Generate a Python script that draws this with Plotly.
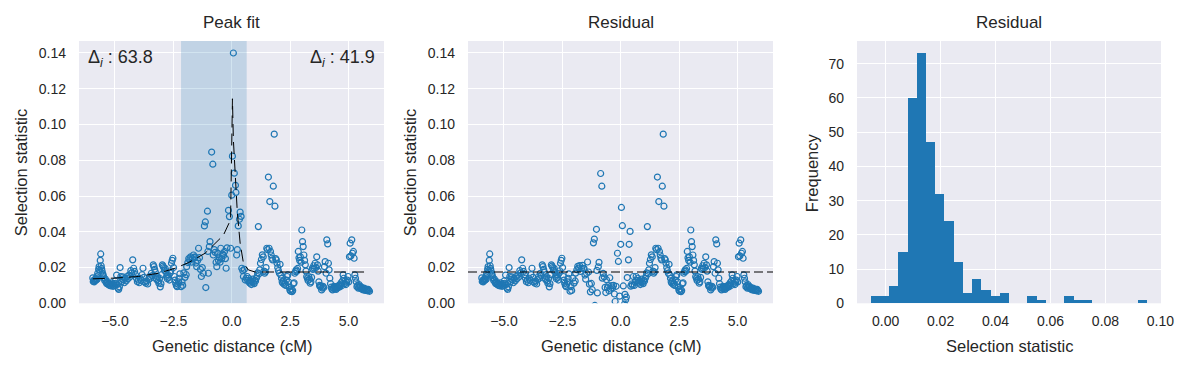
import numpy as np
import plotly.graph_objects as go

# ---------------- data ----------------
# points left of the fitted window (raw == residual)
left_pts = [
    (-5.95, .0142), (-5.93, .0122), (-5.91, .0128), (-5.89, .0120), (-5.87, .0133), (-5.85, .0126),
    (-5.82, .0138), (-5.80, .0130), (-5.78, .0148), (-5.76, .0135), (-5.74, .0168), (-5.72, .0155),
    (-5.70, .0190), (-5.68, .0205), (-5.65, .0185), (-5.63, .0240), (-5.61, .0276), (-5.59, .0210),
    (-5.57, .0195), (-5.55, .0180), (-5.52, .0165), (-5.50, .0155), (-5.47, .0142), (-5.44, .0128),
    (-5.41, .0135), (-5.38, .0118), (-5.35, .0110), (-5.32, .0122), (-5.29, .0105), (-5.26, .0112),
    (-5.23, .0100), (-5.20, .0108), (-5.17, .0097), (-5.14, .0115), (-5.11, .0102), (-5.08, .0095),
    (-5.05, .0110), (-5.02, .0100), (-4.99, .0125), (-4.96, .0112), (-4.93, .0158), (-4.90, .0105),
    (-4.87, .0085), (-4.84, .0078), (-4.81, .0092), (-4.78, .0200), (-4.75, .0150), (-4.72, .0120),
    (-4.69, .0135), (-4.66, .0148), (-4.63, .0130), (-4.60, .0115), (-4.56, .0140), (-4.52, .0125),
    (-4.48, .0150), (-4.44, .0138), (-4.40, .0158), (-4.36, .0147), (-4.32, .0183), (-4.28, .0170),
    (-4.24, .0243), (-4.20, .0196), (-4.16, .0178), (-4.12, .0160), (-4.08, .0140), (-4.04, .0121),
    (-4.00, .0130), (-3.96, .0115), (-3.92, .0140), (-3.88, .0128), (-3.84, .0160), (-3.80, .0196),
    (-3.76, .0145), (-3.72, .0120), (-3.68, .0112), (-3.64, .0125), (-3.60, .0108), (-3.56, .0132),
    (-3.52, .0150), (-3.48, .0140), (-3.44, .0168), (-3.40, .0155), (-3.36, .0215), (-3.33, .0205),
    (-3.30, .0190), (-3.27, .0175), (-3.24, .0140), (-3.21, .0132), (-3.18, .0150), (-3.15, .0125),
    (-3.12, .0112), (-3.09, .0140), (-3.06, .0092), (-3.03, .0110), (-3.00, .0160), (-2.97, .0215),
    (-2.94, .0208), (-2.91, .0200), (-2.88, .0185), (-2.85, .0196), (-2.82, .0175), (-2.79, .0150),
    (-2.76, .0138), (-2.73, .0160), (-2.70, .0145), (-2.67, .0130), (-2.64, .0168), (-2.61, .0182),
    (-2.58, .0224), (-2.55, .0240), (-2.52, .0252), (-2.49, .0200), (-2.46, .0150), (-2.43, .0130),
    (-2.40, .0112), (-2.37, .0100), (-2.34, .0093), (-2.31, .0108), (-2.28, .0120), (-2.25, .0140),
    (-2.22, .0165),
]

# points inside the fitted window: (x, raw value, residual value)
win_pts = [
    (-2.17, .0093, .0068), (-2.13, .0120, .0093), (-2.10, .0100, .0072), (-2.05, .0170, .0140),
    (-2.00, .0145, .0113), (-1.95, .0160, .0125), (-1.93, .0205, .0169), (-1.88, .0228, .0188),
    (-1.84, .0250, .0207), (-1.80, .0243, .0197), (-1.76, .0260, .0211), (-1.72, .0230, .0178),
    (-1.68, .0250, .0195), (-1.64, .0270, .0212), (-1.60, .0255, .0194), (-1.57, .0260, .0196),
    (-1.53, .0225, .0158), (-1.50, .0205, .0135), (-1.46, .0240, .0167), (-1.42, .0308, .0231),
    (-1.38, .0255, .0175), (-1.34, .0190, .0107), (-1.30, .0150, .0064), (-1.26, .0200, .0111),
    (-1.22, .0168, .0076), (-1.17, .0433, .0338), (-1.13, .0455, .0359), (-1.11, .0088, -.0012),
    (-1.04, .0515, .0414), (-1.02, .0290, .0184), (-1.00, .0168, .0058), (-0.96, .0317, .0204),
    (-0.93, .0345, .0229), (-0.86, .0846, .0726), (-0.81, .0778, .0655), (-0.79, .0270, .0141),
    (-0.75, .0300, .0167), (-0.71, .0285, .0148), (-0.67, .0230, .0089), (-0.64, .0205, .0060),
    (-0.61, .0280, .0132), (-0.57, .0240, .0088), (-0.53, .0256, .0099), (-0.50, .0230, .0070),
    (-0.47, .0308, .0143), (-0.43, .0250, .0080), (-0.39, .0275, .0099), (-0.35, .0268, .0086),
    (-0.31, .0290, .0100), (-0.27, .0250, .0052), (-0.24, .0196, .0010), (-0.20, .0310, .0095),
    (-0.14, .0520, .0280), (-0.10, .0485, .0234), (-0.05, .0308, .0040), (0.00, .0605, .0330),
    (0.03, .0823, .0536), (0.07, .1400, .0434), (0.11, .0728, .0097), (0.16, .0660, -.0005),
    (0.18, .0620, .0050), (0.21, .0270, .0020), (0.24, .0300, .0035), (0.28, .0433, .0144),
    (0.33, .0470, .0243), (0.36, .0510, .0330), (0.40, .0486, .0402), (0.43, .0196, .0096),
    (0.47, .0183, .0108), (0.50, .0150, .0100), (0.54, .0190, .0150), (0.58, .0130, .0100),
    (0.62, .0140, .0120),
]

# points right of the fitted window (raw == residual)
right_pts = [
    (0.66, .0150), (0.69, .0128), (0.72, .0140), (0.75, .0118), (0.78, .0112), (0.81, .0125),
    (0.84, .0105), (0.87, .0120), (0.90, .0135), (0.93, .0115), (0.96, .0110), (0.99, .0130),
    (1.02, .0125), (1.05, .0140), (1.08, .0150), (1.11, .0170), (1.14, .0429), (1.17, .0165),
    (1.20, .0187), (1.23, .0224), (1.27, .0245), (1.31, .0271), (1.35, .0260), (1.38, .0180),
    (1.41, .0168), (1.44, .0175), (1.47, .0200), (1.50, .0308), (1.53, .0300), (1.57, .0706),
    (1.60, .0308), (1.63, .0569), (1.66, .0290), (1.69, .0270), (1.72, .0252), (1.75, .0243),
    (1.78, .0655), (1.82, .0946), (1.85, .0543), (1.88, .0250), (1.91, .0243), (1.94, .0224),
    (1.97, .0200), (2.00, .0183), (2.04, .0168), (2.07, .0218), (2.10, .0158), (2.13, .0140),
    (2.16, .0120), (2.19, .0112), (2.22, .0125), (2.25, .0105), (2.28, .0112), (2.31, .0100),
    (2.34, .0130), (2.37, .0150), (2.40, .0159), (2.43, .0120), (2.46, .0090), (2.49, .0075),
    (2.52, .0068), (2.55, .0080), (2.58, .0065), (2.61, .0072), (2.64, .0110), (2.67, .0115),
    (2.70, .0168), (2.73, .0177), (2.76, .0187), (2.79, .0180), (2.82, .0195), (2.85, .0290),
    (2.88, .0255), (2.91, .0240), (2.94, .0260), (2.97, .0230), (3.00, .0410), (3.03, .0345),
    (3.06, .0317), (3.09, .0270), (3.12, .0240), (3.15, .0215), (3.18, .0180), (3.21, .0150),
    (3.24, .0140), (3.27, .0128), (3.30, .0150), (3.33, .0135), (3.36, .0112), (3.39, .0120),
    (3.42, .0145), (3.45, .0196), (3.48, .0190), (3.51, .0210), (3.54, .0196), (3.57, .0224),
    (3.61, .0200), (3.64, .0260), (3.67, .0215), (3.70, .0180), (3.73, .0120), (3.76, .0100),
    (3.79, .0093), (3.82, .0098), (3.85, .0075), (3.88, .0085), (3.91, .0095), (3.94, .0088),
    (3.97, .0205), (4.00, .0233), (4.04, .0168), (4.07, .0355), (4.11, .0332), (4.14, .0224),
    (4.17, .0187), (4.20, .0140), (4.23, .0110), (4.26, .0090), (4.29, .0080), (4.32, .0075),
    (4.35, .0085), (4.38, .0095), (4.41, .0082), (4.44, .0090), (4.47, .0078), (4.50, .0085),
    (4.53, .0095), (4.56, .0088), (4.59, .0100), (4.62, .0092), (4.65, .0105), (4.68, .0115),
    (4.71, .0098), (4.74, .0125), (4.77, .0159), (4.80, .0140), (4.83, .0110), (4.86, .0125),
    (4.89, .0105), (4.92, .0118), (4.95, .0130), (4.98, .0150), (5.01, .0120), (5.04, .0260),
    (5.07, .0336), (5.10, .0265), (5.14, .0355), (5.17, .0280), (5.21, .0290), (5.24, .0252),
    (5.27, .0159), (5.30, .0140), (5.33, .0120), (5.36, .0093), (5.39, .0100), (5.42, .0085),
    (5.45, .0105), (5.48, .0090), (5.51, .0095), (5.54, .0082), (5.57, .0088), (5.60, .0078),
    (5.63, .0075), (5.66, .0085), (5.69, .0080), (5.72, .0072), (5.75, .0080), (5.78, .0075),
    (5.81, .0070), (5.84, .0078), (5.87, .0072), (5.90, .0067),
]

# fitted peak curve (dashed)
fit_x = [-5.95, -5.0, -4.0, -3.14, -2.43, -1.86, -1.14, -0.36, -0.05, 0.03, 0.07, 0.14, 0.24, 0.36, 0.50, 0.71, 1.0, 5.9]
fit_y = [0.0137, 0.0141, 0.0150, 0.0168, 0.0196, 0.0227, 0.0280, 0.0380, 0.0467, 0.1144, 0.0915, 0.0730, 0.0505, 0.0337, 0.0225, 0.0187, 0.0175, 0.0175]

baseline = 0.0175
window = (-2.17, 0.64)
delta_left = 63.8
delta_right = 41.9

# histogram of the residual (30 bins)
hist_lo, hist_hi = -0.0054, 0.0952
hist_counts = [2, 2, 5, 15, 60, 73, 47, 32, 24, 12, 3, 7, 4, 2, 3, 0, 0, 2, 1, 0, 0, 2, 1, 1, 0, 0, 0, 0, 0, 1]

x_ticks = [-5.0, -2.5, 0.0, 2.5, 5.0]
y_ticks = [0.0, 0.02, 0.04, 0.06, 0.08, 0.10, 0.12, 0.14]
h_xticks = [0.0, 0.02, 0.04, 0.06, 0.08, 0.10]
h_yticks = [0, 10, 20, 30, 40, 50, 60, 70]

# ---------------- assemble ----------------
raw_x = [p[0] for p in left_pts] + [p[0] for p in win_pts] + [p[0] for p in right_pts]
raw_y = [p[1] for p in left_pts] + [p[1] for p in win_pts] + [p[1] for p in right_pts]
res_y = [p[1] for p in left_pts] + [p[2] for p in win_pts] + [p[1] for p in right_pts]

edges = np.linspace(hist_lo, hist_hi, len(hist_counts) + 1)
centers = (edges[:-1] + edges[1:]) / 2
bw = edges[1] - edges[0]

Y_TOP = 0.1467
BLUE = '#1f77b4'
TXT = '#262626'
FONT = 'Liberation Sans, Arial, sans-serif'
W, H = 1191, 368

fig = go.Figure()

# shaded fitted window (drawn as a filled trace so it sits above the grid)
fig.add_trace(go.Scatter(x=[window[0], window[0], window[1], window[1]], y=[0, Y_TOP, Y_TOP, 0],
                         mode='lines', fill='toself', fillcolor='rgba(31,119,180,0.2)',
                         line=dict(width=0), hoverinfo='skip', xaxis='x', yaxis='y', showlegend=False))

marker = dict(symbol='circle-open', size=6, color=BLUE, line=dict(width=1.2, color=BLUE))
fig.add_trace(go.Scatter(x=raw_x, y=raw_y, mode='markers', marker=marker, xaxis='x', yaxis='y', showlegend=False))
fig.add_trace(go.Scatter(x=fit_x, y=fit_y, mode='lines', line=dict(color='black', width=1, dash='12px,6px'),
                         xaxis='x', yaxis='y', showlegend=False))
fig.add_trace(go.Scatter(x=raw_x, y=res_y, mode='markers', marker=marker, xaxis='x2', yaxis='y2', showlegend=False))
fig.add_trace(go.Bar(x=centers, y=hist_counts, width=bw, marker=dict(color=BLUE, line=dict(width=0)),
                     xaxis='x3', yaxis='y3', showlegend=False))

def px(v):
    return v / W

def py(v):
    return 1 - v / H

ydom = [py(303.3), py(41)]
doms = [(79, 384), (468, 773), (857, 1161)]

axis_common = dict(showgrid=True, gridcolor='white', gridwidth=1.4, zeroline=False, showline=False,
                   ticks='', tickfont=dict(size=14, color=TXT, family=FONT))
xa = dict(axis_common, ticklabelstandoff=8)
ya = dict(axis_common, ticklabelstandoff=12)

layout = dict(
    width=W, height=H, margin=dict(l=0, r=0, t=0, b=0, autoexpand=False),
    paper_bgcolor='white', plot_bgcolor='#EAEAF2', bargap=0,
    font=dict(family=FONT, color=TXT),
    xaxis=dict(domain=[px(doms[0][0]), px(doms[0][1])], range=[-6.54, 6.52], tickvals=x_ticks, tickformat='.1f',
               anchor='y', **xa),
    yaxis=dict(domain=ydom, range=[0, Y_TOP], tickvals=y_ticks, tickformat='.2f', anchor='x', **ya),
    xaxis2=dict(domain=[px(doms[1][0]), px(doms[1][1])], range=[-6.54, 6.52], tickvals=x_ticks, tickformat='.1f',
                anchor='y2', **xa),
    yaxis2=dict(domain=ydom, range=[0, Y_TOP], tickvals=y_ticks, tickformat='.2f', anchor='x2', **ya),
    xaxis3=dict(domain=[px(doms[2][0]), px(doms[2][1])], range=[-0.0104, 0.1002], tickvals=h_xticks, tickformat='.2f',
                anchor='y3', **xa),
    yaxis3=dict(domain=ydom, range=[0, 76.65], tickvals=h_yticks, anchor='x3', **ya),
)
fig.update_layout(**layout)

fig.add_shape(type='line', xref='x2 domain', yref='y2', x0=0, x1=1, y0=baseline, y1=baseline,
              line=dict(color='black', width=1, dash='9px,4px'), layer='above')

ann = []
LBL = 16.5
for (a, b), title, xl in zip(doms, ['Peak fit', 'Residual', 'Residual'],
                             ['Genetic distance (cM)', 'Genetic distance (cM)', 'Selection statistic']):
    cx = px((a + b) / 2)
    ann.append(dict(text=title, x=cx, y=py(22.7), xref='paper', yref='paper', showarrow=False,
                    xanchor='center', yanchor='middle', font=dict(size=17, color=TXT, family=FONT)))
    ann.append(dict(text=xl, x=cx, y=py(346), xref='paper', yref='paper', showarrow=False,
                    xanchor='center', yanchor='middle', font=dict(size=LBL, color=TXT, family=FONT)))
for xpos, txt in [(20.7, 'Selection statistic'), (409.7, 'Selection statistic'), (811.7, 'Frequency')]:
    ann.append(dict(text=txt, x=px(xpos), y=py(172.5), xref='paper', yref='paper', showarrow=False,
                    textangle=-90, xanchor='center', yanchor='middle', font=dict(size=LBL, color=TXT, family=FONT)))

ann.append(dict(text=f'Δ<sub><i>i</i></sub> : {delta_left}', x=0.023, y=0.935, xref='x domain', yref='y domain',
                showarrow=False, xanchor='left', yanchor='middle', font=dict(size=18, color=TXT, family=FONT)))
ann.append(dict(text=f'Δ<sub><i>i</i></sub> : {delta_right}', x=0.976, y=0.935, xref='x domain', yref='y domain',
                showarrow=False, xanchor='right', yanchor='middle', font=dict(size=18, color=TXT, family=FONT)))
fig.update_layout(annotations=ann)

fig.write_html('out.html', config={'displayModeBar': False},
               post_script="document.body.style.margin='0';document.body.style.padding='0';")
